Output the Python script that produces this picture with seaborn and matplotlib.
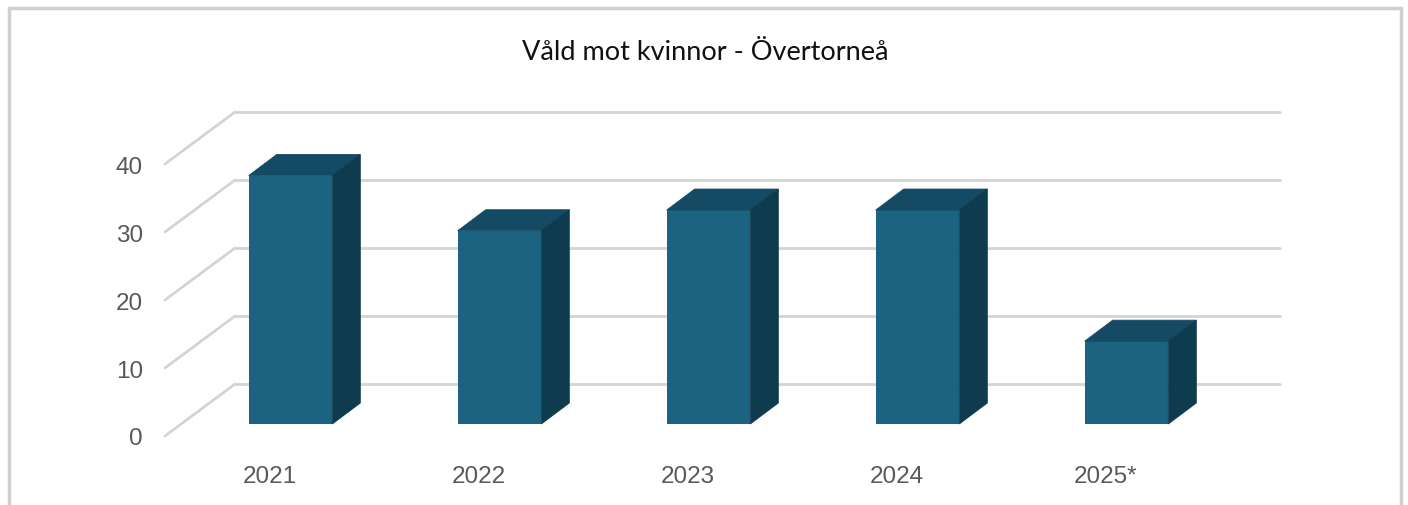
import matplotlib
matplotlib.use("Agg")
import matplotlib.pyplot as plt
import matplotlib.transforms as mtransforms
from matplotlib.patches import Polygon
from matplotlib.lines import Line2D
import seaborn as sns

# data
years = ["2021", "2022", "2023", "2024", "2025*"]
cases = [36, 28, 31, 31, 12]
y_ticks = [0, 10, 20, 30, 40]
title = "Våld mot kvinnor - Övertorneå"

front_col = "#1B6380"
top_col = "#154A64"
side_col = "#0F3B4F"
grid_col = "#D4D4D4"
text_col = "#595959"

W, H = 1408, 506
sns.set_style("white")
fig = plt.figure(figsize=(W / 100, H / 100), dpi=100)

# axes = front plane of the 3d box
ax = fig.add_axes([165 / W, (H - 437) / H, (1210 - 165) / W, (437 - 165) / H])
sns.barplot(x=years, y=cases, width=0.4, color=front_col, saturation=1, ax=ax, zorder=3)
ax.set_xlim(-0.5, len(years) - 0.5)
ax.set_ylim(0, 40)

# pixels per data unit
ux = (1210 - 165) / len(years)
uy = (437 - 165) / 40

# depth offsets in pixels
wall_dx, wall_dy = 70, 52      # front plane -> back wall
bar_dx, bar_dy = 21, 12        # front plane -> bar front face
deep_dx, deep_dy = 28, 21      # bar front -> bar back
persp = 1.015                  # bars sit a bit closer to the eye

# back wall gridlines and floor/side diagonals
for t in y_ticks:
    ax.plot([-0.5 + wall_dx / ux, len(years) - 0.5 + wall_dx / ux],
            [t + wall_dy / uy, t + wall_dy / uy],
            color=grid_col, lw=2, clip_on=False, zorder=1)
    ax.plot([-0.5, -0.5 + wall_dx / ux], [t, t + wall_dy / uy],
            color=grid_col, lw=2, clip_on=False, zorder=1)

# shift bars to their depth and add top / side faces
front = mtransforms.Affine2D().scale(1, persp) + mtransforms.offset_copy(
    ax.transData, fig=fig, x=bar_dx, y=bar_dy, units="dots")
ddx, ddy = deep_dx / ux, deep_dy / uy / persp
for p in ax.patches:
    p.set_transform(front)
    p.set_clip_on(False)
    p.set_linewidth(0)
    x0, w, h = p.get_x(), p.get_width(), p.get_height()
    top = Polygon([(x0, h), (x0 + ddx, h + ddy), (x0 + w + ddx, h + ddy), (x0 + w, h)],
                  closed=True, facecolor=top_col, edgecolor=top_col, lw=0.6,
                  transform=front, clip_on=False, zorder=3)
    side = Polygon([(x0 + w, 0), (x0 + w, h), (x0 + w + ddx, h + ddy), (x0 + w + ddx, ddy)],
                   closed=True, facecolor=side_col, edgecolor=side_col, lw=0.6,
                   transform=front, clip_on=False, zorder=3)
    ax.add_patch(top)
    ax.add_patch(side)

ax.set_yticks(y_ticks)
ax.set_xlabel("")
ax.set_ylabel("")
for s in ax.spines.values():
    s.set_visible(False)
ax.tick_params(axis="both", length=0, labelsize=17.5, labelcolor=text_col)
ax.tick_params(axis="x", pad=21)
ax.tick_params(axis="y", pad=16)
for lab in ax.get_xticklabels() + ax.get_yticklabels():
    lab.set_family("Liberation Sans")
ax.patch.set_alpha(0)

fig.text(705 / W, 1 - 52 / H, title, ha="center", va="center",
         fontsize=19.5, family="Lato", color="#111111")

# outer chart border
fig.add_artist(Line2D([9 / W, 9 / W], [0, 1 - 9 / H], color="#D0D0D0", lw=2.5))
fig.add_artist(Line2D([1401 / W, 1401 / W], [0, 1 - 9 / H], color="#D0D0D0", lw=2.5))
fig.add_artist(Line2D([9 / W, 1401 / W], [1 - 9 / H, 1 - 9 / H], color="#D0D0D0", lw=2.5))

fig.savefig("out.png", dpi=100)
